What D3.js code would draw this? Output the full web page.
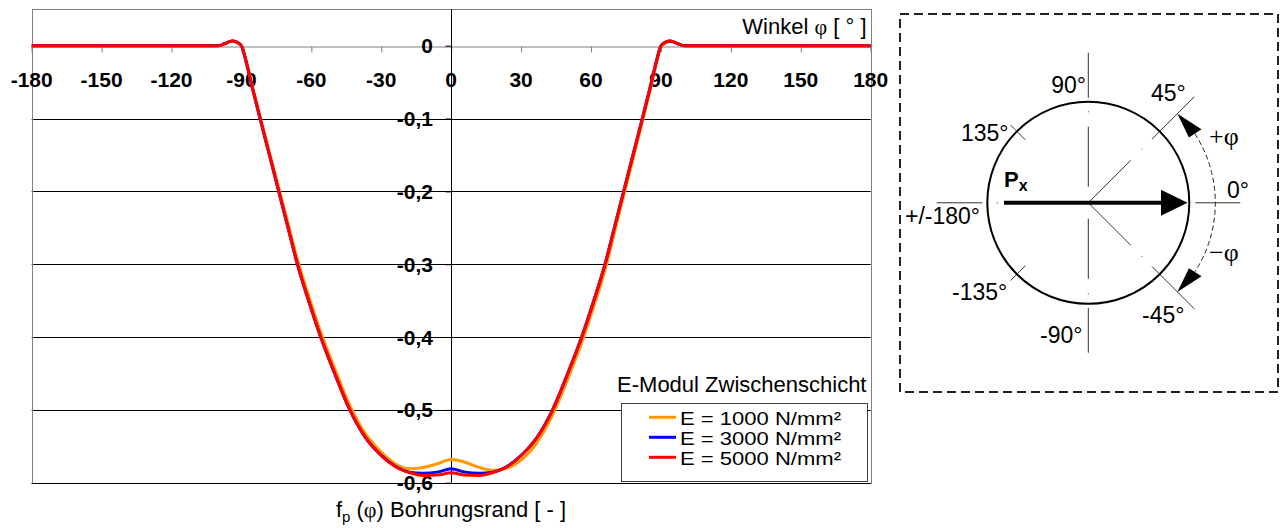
<!DOCTYPE html>
<html><head><meta charset="utf-8">
<script src="https://cdn.jsdelivr.net/npm/d3@7"></script>
<style>body{margin:0;background:#fff} svg{display:block}</style>
</head><body>
<svg id="c" width="1282" height="528"></svg>
<script>
// ---------- data ----------
const angles = [-180,-100,-97,-94,-92,-90,-88,-85,-82,-78,-74,-70,-66,-61,-56,-50,-43.5,-37,-30,-24,-18,-12,-6,
  0,
  6,12,18,24,30,37,43.5,50,56,61,66,70,74,78,82,85,88,90,92,94,97,100,180];
const e1000 = [0,0,0.003,0.0065,0.005,0,-0.02,-0.059,-0.097,-0.146,-0.195,-0.244,-0.293,-0.345,-0.393,-0.443,-0.494,-0.532,-0.558,-0.574,-0.581,-0.579,-0.574,
  -0.568,
  -0.572,-0.579,-0.583,-0.58,-0.569,-0.544,-0.507,-0.458,-0.408,-0.36,-0.308,-0.257,-0.206,-0.156,-0.105,-0.066,-0.025,-0.002,0.004,0.0065,0.003,0,0];
const e3000 = [0,0,0.003,0.0065,0.005,0,-0.022,-0.062,-0.1,-0.15,-0.2,-0.25,-0.3,-0.352,-0.4,-0.45,-0.5,-0.537,-0.5625,-0.5775,-0.5855,-0.587,-0.5855,
  -0.581,
  -0.5855,-0.587,-0.5855,-0.5775,-0.5625,-0.537,-0.5,-0.45,-0.4,-0.352,-0.3,-0.25,-0.2,-0.15,-0.1,-0.062,-0.022,0,0.005,0.0065,0.003,0,0];
const e5000 = [0,0,0.003,0.0065,0.005,0,-0.022,-0.062,-0.1,-0.15,-0.2,-0.25,-0.3,-0.352,-0.4,-0.45,-0.5,-0.537,-0.563,-0.578,-0.586,-0.59,-0.5895,
  -0.5865,
  -0.5895,-0.59,-0.586,-0.578,-0.563,-0.537,-0.5,-0.45,-0.4,-0.352,-0.3,-0.25,-0.2,-0.15,-0.1,-0.062,-0.022,0,0.005,0.0065,0.003,0,0];
const seriesNames = ["E = 1000 N/mm²","E = 3000 N/mm²","E = 5000 N/mm²"];
const seriesColors = ["#ff9900","#0000ff","#ff0000"];
const xTicks = [-180,-150,-120,-90,-60,-30,0,30,60,90,120,150,180];
const yTicks = [0,-0.1,-0.2,-0.3,-0.4,-0.5,-0.6];
const legendTitle = "E-Modul Zwischenschicht";
const diagramLabels = [
  {t:"90°", a:"end", x:1086, y:93},
  {t:"45°", a:"start", x:1151, y:101},
  {t:"135°", a:"start", x:961, y:141},
  {t:"0°", a:"start", x:1227, y:198},
  {t:"+/-180°", a:"start", x:905, y:224},
  {t:"-135°", a:"start", x:952, y:300},
  {t:"-45°", a:"start", x:1142, y:323},
  {t:"-90°", a:"start", x:1040, y:343}
];

// ---------- chart ----------
const svg = d3.select("#c");
const FONT = "Arial, 'Liberation Sans', sans-serif";
const SERIF = "'Times New Roman', 'Liberation Serif', serif";
const L = 31.7, R = 870.7, T = 9.3, B = 482.7;
const x = d3.scaleLinear().domain([-180,180]).range([L,R]);
const y = d3.scaleLinear().domain([-0.6,0.05]).range([B,T]);

// gridlines
svg.append("g").selectAll("line").data(yTicks.filter(v=>v<0)).join("line")
  .attr("x1",L).attr("x2",R).attr("y1",d=>Math.round(y(d))+0.5).attr("y2",d=>Math.round(y(d))+0.5)
  .attr("stroke","#000").attr("stroke-width",1);
// border
svg.append("rect").attr("x",Math.round(L)+0.5).attr("y",Math.round(T)+0.5)
  .attr("width",Math.round(R)-Math.round(L)).attr("height",Math.round(B)-Math.round(T))
  .attr("fill","none").attr("stroke","#808080");
svg.append("line").attr("x1",L).attr("x2",R).attr("y1",Math.round(B)+0.5).attr("y2",Math.round(B)+0.5).attr("stroke","#000");

// x axis at zero
const y0 = Math.round(y(0))+0.5;
const xAxis = d3.axisBottom(x).tickValues(xTicks).tickSize(6).tickFormat("");
const gx = svg.append("g").attr("transform",`translate(0,${y0})`).call(xAxis);
gx.select(".domain").attr("stroke","#808080");
gx.selectAll(".tick line").attr("stroke","#808080");
svg.append("g").selectAll("text").data(xTicks).join("text")
  .attr("x",d=>x(d)).attr("y",87).attr("text-anchor","middle")
  .attr("font-family",FONT).attr("font-weight","bold").attr("font-size",21)
  .text(d=>d);

// y axis at zero
const x0 = Math.round(x(0))+0.5;
const yAxis = d3.axisLeft(y).tickValues(yTicks).tickSize(6).tickFormat("");
const gy = svg.append("g").attr("transform",`translate(${x0},0)`).call(yAxis);
gy.select(".domain").remove();
gy.selectAll(".tick line").attr("stroke","#000");
svg.append("line").attr("x1",x0).attr("x2",x0).attr("y1",T).attr("y2",B).attr("stroke","#000");
svg.append("g").selectAll("text").data(yTicks).join("text")
  .attr("x",433).attr("y",d=>y(d)+7.6).attr("text-anchor","end")
  .attr("font-family",FONT).attr("font-weight","bold").attr("font-size",21)
  .text(d=> d===0 ? "0" : d3.format(".1f")(d).replace(".",",").replace("−","-"));

// lines
const series = [e1000,e3000,e5000];
const line = d3.line().x((d,i)=>x(angles[i])).y(d=>y(d)).curve(d3.curveMonotoneX);
svg.append("g").selectAll("path").data(series).join("path")
  .attr("d",d=>line(d)).attr("fill","none")
  .attr("stroke",(d,i)=>seriesColors[i]).attr("stroke-width",3).attr("stroke-linejoin","round");

// axis titles
const wt = svg.append("text").attr("x",866.5).attr("y",34).attr("text-anchor","end")
  .attr("font-family",FONT).attr("font-size",22);
wt.append("tspan").text("Winkel ");
wt.append("tspan").attr("font-family",SERIF).text("φ");
wt.append("tspan").text(" [ ° ]");

const ft = svg.append("text").attr("x",451).attr("y",517).attr("text-anchor","middle")
  .attr("font-family",FONT).attr("font-size",22);
ft.append("tspan").text("f");
ft.append("tspan").attr("font-size",15).attr("dy",5).text("p");
ft.append("tspan").attr("dy",-5).text(" (");
ft.append("tspan").attr("font-family",SERIF).text("φ");
ft.append("tspan").text(") Bohrungsrand [ - ]");

// legend
svg.append("text").attr("x",866.5).attr("y",391.5).attr("text-anchor","end")
  .attr("font-family",FONT).attr("font-size",22).text(legendTitle);
svg.append("rect").attr("x",621.5).attr("y",403.5).attr("width",246).attr("height",78)
  .attr("fill","#fff").attr("stroke","#404040");
const lg = svg.append("g").selectAll("g").data(seriesNames).join("g")
  .attr("transform",(d,i)=>`translate(0,${417.3+i*20})`);
lg.append("line").attr("x1",649).attr("x2",676).attr("y1",0).attr("y2",0)
  .attr("stroke",(d,i)=>seriesColors[i]).attr("stroke-width",3);
lg.append("text").attr("x",680).attr("y",7.2).attr("font-family",FONT).attr("font-size",19)
  .attr("textLength",161).attr("lengthAdjust","spacingAndGlyphs").text(d=>d);

// ---------- diagram ----------
const cx = 1088.3, cy = 202.8, Rc = 101;
const dg = svg.append("g");
dg.append("rect").attr("x",900).attr("y",14).attr("width",378).attr("height",378)
  .attr("fill","none").attr("stroke","#222").attr("stroke-width",2).attr("stroke-dasharray","9,5");
const pt = (deg, r) => [cx + r*Math.cos(deg*Math.PI/180), cy - r*Math.sin(deg*Math.PI/180)];
function seg(deg, r1, r2, w){
  const a = pt(deg,r1), b = pt(deg,r2);
  dg.append("line").attr("x1",a[0]).attr("y1",a[1]).attr("x2",b[0]).attr("y2",b[1])
    .attr("stroke","#333").attr("stroke-width",w||1);
}
// center lines
[90,-90].forEach(a=>{ seg(a,16,76); seg(a,90.5,91.5); seg(a,105,150); });
[45,-45].forEach(a=>{ seg(a,0,60); seg(a,75.5,76.5); seg(a,90,150); });
[135,-135].forEach(a=>{ seg(a,89,110); });
seg(180,90.5,91.5); seg(180,106,151.6);
seg(0,107,152);
// circle
dg.append("circle").attr("cx",cx).attr("cy",cy).attr("r",Rc).attr("fill","none")
  .attr("stroke","#000").attr("stroke-width",2);
// force arrow
dg.append("line").attr("x1",1004).attr("x2",1163).attr("y1",cy).attr("y2",cy)
  .attr("stroke","#000").attr("stroke-width",4);
dg.append("path").attr("d",`M1161,${cy-13}L1187.5,${cy}L1161,${cy+13}Z`).attr("fill","#000");
const px = dg.append("text").attr("x",1004).attr("y",187).attr("font-family",FONT).attr("font-weight","bold").attr("font-size",22);
px.append("tspan").text("P");
px.append("tspan").attr("font-size",16).attr("dy",4).text("x");
// dashed arc
const Ra = 127, aS = pt(33,Ra), aE = pt(-33,Ra);
dg.append("path").attr("d",`M${aS[0]},${aS[1]}A${Ra},${Ra} 0 0 1 ${aE[0]},${aE[1]}`)
  .attr("fill","none").attr("stroke","#222").attr("stroke-width",1).attr("stroke-dasharray","5,3");
function head(sign){
  const tip = pt(45*sign,126), bc = pt(33*sign,127.5);
  const ang = 33*sign*Math.PI/180, ux = Math.cos(ang), uy = -Math.sin(ang);
  const c1 = [bc[0]+7.5*ux, bc[1]+7.5*uy], c2 = [bc[0]-7.5*ux, bc[1]-7.5*uy];
  dg.append("path").attr("d",`M${tip}L${c1}L${c2}Z`).attr("fill","#000");
}
head(1); head(-1);
// labels
dg.selectAll("text.lab").data(diagramLabels).join("text").attr("class","lab")
  .attr("x",d=>d.x).attr("y",d=>d.y).attr("text-anchor",d=>d.a)
  .attr("font-family",FONT).attr("font-size",23).text(d=>d.t);
dg.append("text").attr("x",1209).attr("y",145).attr("font-family",SERIF).attr("font-size",26).text("+φ");
dg.append("text").attr("x",1209).attr("y",261).attr("font-family",SERIF).attr("font-size",26).text("−φ");
</script>
</body></html>
